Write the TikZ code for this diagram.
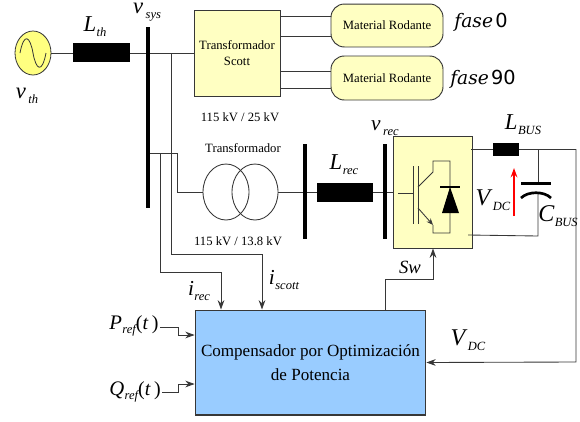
\documentclass[tikz,border=0pt]{standalone}
\usepackage{fontspec}
\setmainfont{Liberation Serif}
\newfontfamily\fasefont{DejaVu Serif}
\newfontfamily\numfont{DejaVu Sans}
\usetikzlibrary{arrows.meta,shapes.geometric}

\definecolor{boxyellow}{RGB}{255,255,194}
\definecolor{srcyellow}{RGB}{255,255,128}
\definecolor{ctrlblue}{RGB}{153,204,255}
\definecolor{wire}{RGB}{55,55,55}

\newcommand{\symb}[3]{{\fontsize{#1}{#1}\selectfont\itshape #2\kern.02em\raisebox{-.5ex}{\fontsize{9.4}{9.4}\selectfont #3}}}

\tikzset{
  wireline/.style={draw=wire, line width=0.65pt},
  sigline/.style={wireline, -{Stealth[length=7pt,width=5pt]}},
  busbar/.style={fill=black, draw=none, inner sep=0pt},
  inductor/.style={fill=black, draw=none, inner sep=0pt},
  yellowbox/.style={draw=wire, fill=boxyellow, line width=0.7pt, inner sep=0pt},
  loadbox/.style={yellowbox, rounded corners=10pt, minimum width=84pt, font=\fontsize{9.5}{11}\selectfont},
  plain/.style={inner sep=0pt, font=\fontsize{9.5}{11}\selectfont},
  winding/.style={wireline, ellipse, minimum width=34.5pt, minimum height=42pt, inner sep=0pt},
  symlabel/.style={inner sep=0pt}
}

\begin{document}
\begin{tikzpicture}[x=0.75pt,y=-0.75pt]
\useasboundingbox (0,0) rectangle (580,421);

% Blocks
\node[draw=wire, fill=srcyellow, ellipse, line width=0.6pt, minimum width=27pt, minimum height=33pt, inner sep=0pt] (src) at (33,53) {};
\node[yellowbox, minimum width=64.5pt, minimum height=64.5pt] (scott) at (237,53) {};
\node[loadbox, minimum height=32.2pt] (load0) at (387,25.5) {Material Rodante};
\node[loadbox, minimum height=33pt] (load90) at (387,78) {Material Rodante};
\node[winding] (tr1) at (226,192) {};
\node[winding] (tr2) at (255,192) {};
\node[yellowbox, minimum width=59.2pt, minimum height=84pt] (conv) at (432.5,192) {};
\node[draw=wire, fill=ctrlblue, line width=0.8pt, minimum width=173pt, minimum height=78.7pt, inner sep=0pt,
  align=center, font=\fontsize{12.8}{17.5}\selectfont] (ctrl) at (310.5,362.5) {Compensador por Optimización\\de Potencia};

% Coordinates of the wires
\coordinate (sysa) at (148,153);
\coordinate (sysb) at (160,153);
\coordinate (sysc) at (171,53);
\coordinate (busr) at (576,149);
\coordinate (busc) at (538,149);
\coordinate (caplow) at (538,192);

% Wires
\draw[wireline] (src) -- (scott);
\draw[wireline] (sysa) -- (177,153) -- (177,192) -- (tr1.west);
\draw[wireline] (tr2.east) -- (conv.west |- tr2.east);
\draw[wireline] (scott.east |- 0,16) -- (load0.west |- 0,16);
\draw[wireline] (scott.east |- 0,36) -- (load0.west |- 0,36);
\draw[wireline] (scott.east |- 0,71) -- (load90.west |- 0,71);
\draw[wireline] (scott.east |- 0,88) -- (load90.west |- 0,88);
\draw[wireline] (471,149) -- (busr);
\draw[wireline] (busc) -- (538,183);
\draw[wireline] (caplow) -- (538,236) -- (468,235);

% Source wave
\draw[wire, line width=0.6pt] (20,53) .. controls (24,32) and (30,36) .. (33,53)
  .. controls (36,70) and (42,74) .. (46,53);

% Buses and inductors
\node[busbar, minimum width=3pt, minimum height=135.8pt] (bussys) at (148,117.5) {};
\node[inductor, minimum width=42.8pt, minimum height=14.3pt] (lthbox) at (101.5,52.5) {};
\node[busbar, minimum width=2.6pt, minimum height=71.3pt] (busa) at (304.8,191.5) {};
\node[inductor, minimum width=42pt, minimum height=14.3pt] (lrecbox) at (345,192.5) {};
\node[busbar, minimum width=2.6pt, minimum height=71.3pt] (busb) at (384.8,191.5) {};
\node[inductor, minimum width=19.5pt, minimum height=9.8pt] (lbusbox) at (506,149.5) {};

% Switch
\draw[wireline] (398,193) -- (413,193);
\draw[wireline] (413,166) -- (413,224);
\draw[wireline] (418,166) -- (418,224);
\draw[wireline] (418,187) -- (433,172) -- (433,161) -- (450,161) -- (450,233) -- (433,233) -- (433,225);
\draw[wireline, -{Stealth[length=5pt,width=4pt]}] (418,208) -- (433,225);
\fill[black] (450,187) -- (442,213) -- (459,213) -- cycle;
\fill[black] (440,185.5) rectangle (460,187.5);

% Capacitor
\fill[black] (521,182) rectangle (551,185);
\draw[black, line width=2pt] (521,198) .. controls (528,191) and (544,191) .. (551,198);
\draw[-{Stealth[length=7pt,width=5pt]}, red, line width=1.3pt] (514,216) -- (514,168);

% Signals
\draw[sigline] (sysc) -- (171,254) -- (262,254) -- (ctrl.north -| 262,0);
\draw[sigline] (sysb) -- (160,272) -- (221,272) -- (ctrl.north -| 221,0);
\draw[sigline] (ctrl.north -| 385,0) -- (385,279) -- (433,279) -- (conv.south -| 433,0);
\draw[sigline] (busr) -- (576,362) -- (ctrl.east);
\draw[sigline] (160,327) -- (178,327) -- (178,335) -- (ctrl.west |- 0,335);
\draw[sigline] (162,392) -- (178,392) -- (178,384) -- (ctrl.west |- 0,384);

% Labels
\node[plain, align=center] (scottlbl) at (237,53) {Transformador\\[1pt]Scott};
\node[plain] (ratio1) at (240,117) {115 kV / 25 kV};
\node[plain] (trlbl) at (243,148) {Transformador};
\node[plain] (ratio2) at (238,241) {115 kV / 13.8 kV};
\node[symlabel] (vth) at (27,96) {\symb{17}{v}{\,th}};
\node[symlabel] (lth) at (95,27) {\symb{17}{L}{th}};
\node[symlabel] (vsys) at (147,12) {\symb{17}{v}{\,sys}};
\node[symlabel] (vrec) at (385,128) {\symb{16}{v}{\,rec}};
\node[symlabel] (lrec) at (344,165) {\symb{17}{L}{rec}};
\node[symlabel] (lbus) at (523,125) {\symb{17}{L}{BUS}};
\node[symlabel] (vdc) at (493,200) {\symb{18}{V}{\,DC}};
\node[symlabel] (cbus) at (558,216) {\symb{18}{C}{BUS}};
\node[symlabel] (irec) at (199,291) {\symb{16}{i}{rec}};
\node[symlabel] (iscott) at (284,280) {\symb{16}{i}{scott}};
\node[symlabel] (sw) at (410,267) {\fontsize{14}{14}\selectfont\itshape Sw};
\node[symlabel] (vdcb) at (468,340) {\symb{18}{V}{\,DC}};
\node[symlabel] (pref) at (134,326) {\symb{15.5}{P}{ref}\fontsize{15}{15}\selectfont(\textit{t}\,)};
\node[symlabel] (qref) at (135,392) {\symb{15.5}{Q}{ref}\fontsize{15}{15}\selectfont(\textit{t}\,)};
\node[symlabel] (fase0) at (481,22) {{\fontsize{14}{14}\selectfont\fasefont\itshape fase}\,{\fontsize{14.5}{14.5}\selectfont\numfont 0}};
\node[symlabel] (fase90) at (483,79) {{\fontsize{14}{14}\selectfont\fasefont\itshape fase}\,{\fontsize{14.5}{14.5}\selectfont\numfont 90}};

\end{tikzpicture}
\end{document}
